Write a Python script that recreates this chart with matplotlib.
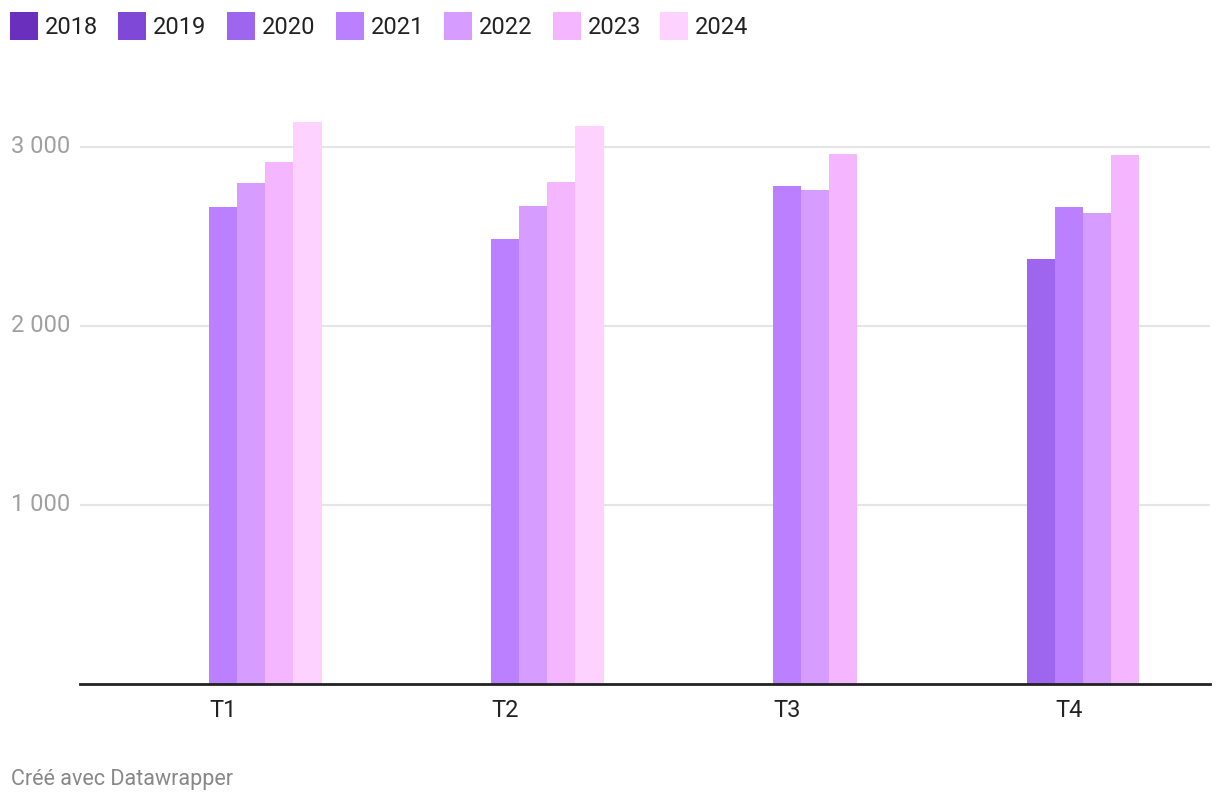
import matplotlib
matplotlib.use("Agg")
import matplotlib.pyplot as plt
from matplotlib.patches import Rectangle
import numpy as np

plt.rcParams["font.family"] = ["Roboto", "DejaVu Sans"]

quarters = ["T1", "T2", "T3", "T4"]
years = ["2018", "2019", "2020", "2021", "2022", "2023", "2024"]
colors = ["#6b2fbd", "#7f48d6", "#9e66ef", "#bb80ff", "#d79cff", "#f3b6ff", "#fdd2ff"]

# valeurs par année (None = pas de donnée)
v2018 = [None, None, None, None]
v2019 = [None, None, None, None]
v2020 = [None, None, None, 2373]
v2021 = [2663, 2485, 2781, 2663]
v2022 = [2797, 2669, 2758, 2630]
v2023 = [2916, 2803, 2959, 2954]
v2024 = [3138, 3116, None, None]
series = [v2018, v2019, v2020, v2021, v2022, v2023, v2024]

W, H = 1220, 806
fig = plt.figure(figsize=(W / 100, H / 100), dpi=100)
ax = fig.add_axes([80 / W, (H - 684) / H, 1130 / W, 584 / H])

x = np.arange(len(quarters))
bw = 0.1
for i, (vals, c) in enumerate(zip(series, colors)):
    xs = [x[j] + (i - 3) * bw for j, v in enumerate(vals) if v is not None]
    ys = [v for v in vals if v is not None]
    ax.bar(xs, ys, width=bw, color=c, zorder=3, linewidth=0)

ax.set_xlim(-0.507, 3.5)
ax.set_ylim(0, 584 / 0.1791)
ax.set_xticks(x)
ax.set_xticklabels(quarters, fontsize=17, color="#222222")
ax.tick_params(axis="x", length=0, pad=11)
ax.set_yticks([1000, 2000, 3000])
ax.set_yticklabels([])
ax.tick_params(axis="y", length=0)
ax.grid(axis="y", color="#e5e5e5", linewidth=1.5, zorder=0)
for s in ["top", "right", "left"]:
    ax.spines[s].set_visible(False)
ax.spines["bottom"].set_color("#222222")
ax.spines["bottom"].set_linewidth(2)
ax.spines["bottom"].set_zorder(5)

# étiquettes de l'axe y, alignées à gauche
for t in [1000, 2000, 3000]:
    ypix = ax.transData.transform((0, t))[1]
    fig.text(11 / W, ypix / H, f"{t:,}".replace(",", " "), fontsize=17,
             color="#a0a0a0", ha="left", va="center")

# légende
lx = [10, 118, 227, 336, 444, 553, 660]
for xpos, yr, c in zip(lx, years, colors):
    fig.add_artist(Rectangle((xpos / W, (H - 40) / H), 28 / W, 28 / H,
                             transform=fig.transFigure, color=c, linewidth=0))
    fig.text((xpos + 35) / W, (H - 27) / H, yr, fontsize=17, color="#222222",
             ha="left", va="center")

fig.text(11 / W, (H - 780) / H, "Créé avec Datawrapper", fontsize=15.5,
         color="#888888", ha="left", va="center")

fig.savefig("out.png", dpi=100, facecolor="white")
